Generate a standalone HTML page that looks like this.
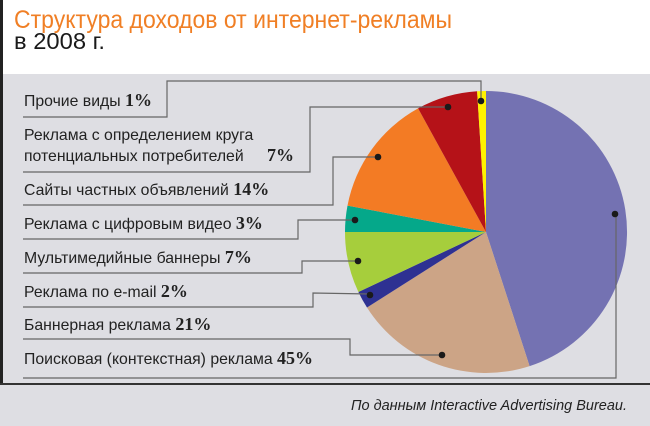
<!DOCTYPE html>
<html><head><meta charset="utf-8"><style>
html,body{margin:0;padding:0;background:#fff}
svg{display:block}
</style></head><body>
<svg width="650" height="426" viewBox="0 0 650 426" xmlns="http://www.w3.org/2000/svg" font-family="Liberation Sans, sans-serif">
<rect x="0" y="0" width="650" height="426" fill="#fff"/>
<rect x="0" y="74" width="650" height="352" fill="#dedee3"/>
<rect x="0" y="0" width="3" height="385" fill="#222"/>
<rect x="0" y="383" width="650" height="2" fill="#333"/>
<text x="14" y="28" font-size="25" fill="#f07f25" textLength="438" lengthAdjust="spacingAndGlyphs">Структура доходов от интернет-рекламы</text>
<text x="14" y="49" font-size="23" fill="#1a1a1a" textLength="91" lengthAdjust="spacingAndGlyphs">в 2008 г.</text>
<!-- pie -->
<path d="M486,232 L486,91 A141,141 0 0 1 529.6,366.1 Z" fill="#7472b2"/>
<path d="M486,232 L529.6,366.1 A141,141 0 0 1 367.0,307.5 Z" fill="#cca486"/>
<path d="M486,232 L367.0,307.5 A141,141 0 0 1 358.4,292.0 Z" fill="#2e3192"/>
<path d="M486,232 L358.4,292.0 A141,141 0 0 1 345,232 Z" fill="#a6ce3c"/>
<path d="M486,232 L345,232 A141,141 0 0 1 347.5,205.6 Z" fill="#05a88a"/>
<path d="M486,232 L347.5,205.6 A141,141 0 0 1 418.1,108.4 Z" fill="#f37b24"/>
<path d="M486,232 L418.1,108.4 A141,141 0 0 1 477.1,91.3 Z" fill="#b51218"/>
<path d="M486,232 L477.1,91.3 A141,141 0 0 1 486,91 Z" fill="#fff200"/>
<!-- leaders -->
<g fill="none" stroke="#666" stroke-width="1.2">
<polyline points="23,117 167,117 167,81 481,81 481,101"/>
<polyline points="23,172 310,172 310,107 448,107"/>
<polyline points="23,205 333,205 333,157 378,157"/>
<polyline points="23,239 298,239 298,220 355,220"/>
<polyline points="23,273 302,273 302,261 358,261"/>
<polyline points="23,307 313,307 313,293 370,294"/>
<polyline points="23,339 350,339 350,355 442,355"/>
<polyline points="23,378 616,378 616,214"/>
</g>
<g fill="#1a1a1a">
<circle cx="481" cy="101" r="3.3"/><circle cx="448" cy="107" r="3.3"/>
<circle cx="378" cy="157" r="3.3"/><circle cx="355" cy="220" r="3.3"/>
<circle cx="358" cy="261" r="3.3"/><circle cx="370" cy="295" r="3.3"/>
<circle cx="442" cy="355" r="3.3"/><circle cx="615" cy="214" r="3.3"/>
</g>
<g font-size="15.8" fill="#222">
<text x="24" y="106">Прочие виды <tspan font-family="Liberation Serif, serif" font-weight="bold" font-size="18">1%</tspan></text>
<text x="24" y="140">Реклама с определением круга</text>
<text x="24" y="161">потенциальных потребителей<tspan x="267" font-family="Liberation Serif, serif" font-weight="bold" font-size="18">7%</tspan></text>
<text x="24" y="195">Сайты частных объявлений <tspan font-family="Liberation Serif, serif" font-weight="bold" font-size="18">14%</tspan></text>
<text x="24" y="229">Реклама с цифровым видео <tspan font-family="Liberation Serif, serif" font-weight="bold" font-size="18">3%</tspan></text>
<text x="24" y="263">Мультимедийные баннеры <tspan font-family="Liberation Serif, serif" font-weight="bold" font-size="18">7%</tspan></text>
<text x="24" y="297">Реклама по e-mail <tspan font-family="Liberation Serif, serif" font-weight="bold" font-size="18">2%</tspan></text>
<text x="24" y="330">Баннерная реклама <tspan font-family="Liberation Serif, serif" font-weight="bold" font-size="18">21%</tspan></text>
<text x="24" y="364">Поисковая (контекстная) реклама <tspan font-family="Liberation Serif, serif" font-weight="bold" font-size="18">45%</tspan></text>
</g>
<text x="351" y="410" font-size="15" font-style="italic" fill="#222" textLength="276" lengthAdjust="spacingAndGlyphs">По данным Interactive Advertising Bureau.</text>
</svg>
</body></html>
